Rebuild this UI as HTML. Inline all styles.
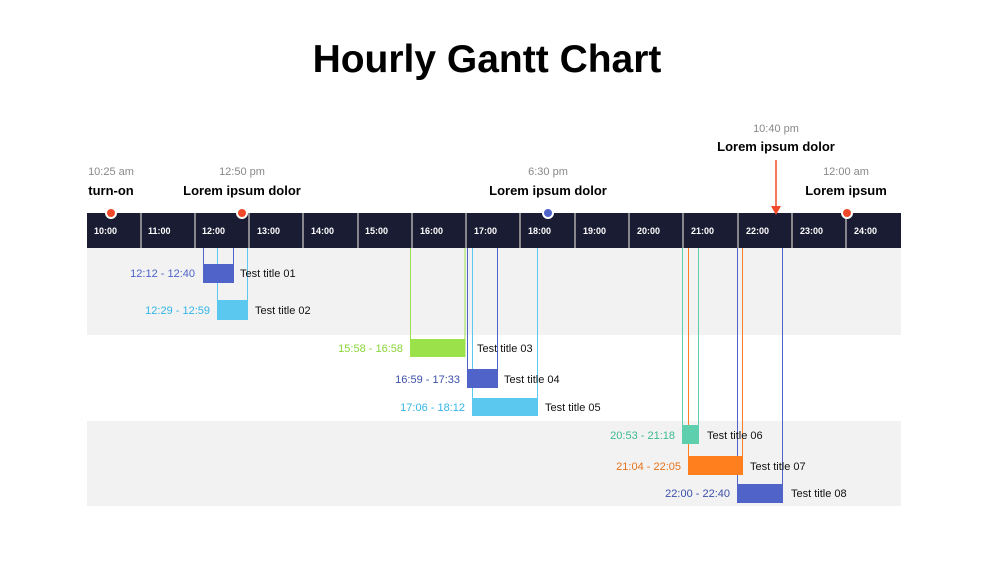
<!DOCTYPE html>
<html><head><meta charset="utf-8"><style>
body{margin:0;background:#fff;width:988px;height:556px;overflow:hidden;font-family:"Liberation Sans",sans-serif}
</style></head><body>
<svg width="988" height="556" xmlns="http://www.w3.org/2000/svg" font-family="Liberation Sans, sans-serif">
<text x="487" y="72" text-anchor="middle" font-size="39" font-weight="bold" fill="#000">Hourly Gantt Chart</text>
<rect x="87" y="248" width="814" height="87" fill="#f2f2f2"/>
<rect x="87" y="421" width="814" height="85" fill="#f2f2f2"/>
<rect x="87" y="213" width="814" height="35" fill="#1a1c33"/>
<g stroke="#aaa" stroke-width="1.5">
<line x1="141" y1="213" x2="141" y2="248"/><line x1="195" y1="213" x2="195" y2="248"/><line x1="249" y1="213" x2="249" y2="248"/><line x1="303" y1="213" x2="303" y2="248"/><line x1="358" y1="213" x2="358" y2="248"/><line x1="412" y1="213" x2="412" y2="248"/><line x1="466" y1="213" x2="466" y2="248"/><line x1="520" y1="213" x2="520" y2="248"/><line x1="575" y1="213" x2="575" y2="248"/><line x1="629" y1="213" x2="629" y2="248"/><line x1="683" y1="213" x2="683" y2="248"/><line x1="738" y1="213" x2="738" y2="248"/><line x1="792" y1="213" x2="792" y2="248"/><line x1="846" y1="213" x2="846" y2="248"/>
</g>
<g fill="#fff" font-size="9" font-weight="bold">
<text x="94" y="234">10:00</text><text x="148" y="234">11:00</text><text x="202" y="234">12:00</text><text x="257" y="234">13:00</text><text x="311" y="234">14:00</text><text x="365" y="234">15:00</text><text x="420" y="234">16:00</text><text x="474" y="234">17:00</text><text x="528" y="234">18:00</text><text x="583" y="234">19:00</text><text x="637" y="234">20:00</text><text x="691" y="234">21:00</text><text x="746" y="234">22:00</text><text x="800" y="234">23:00</text><text x="854" y="234">24:00</text>
</g>
<g stroke-width="1">
<line x1="203.5" y1="248" x2="203.5" y2="283" stroke="#4f63c9"/><line x1="233.5" y1="248" x2="233.5" y2="283" stroke="#4f63c9"/>
<line x1="217.5" y1="248" x2="217.5" y2="320" stroke="#5bc8f0"/><line x1="247.5" y1="248" x2="247.5" y2="320" stroke="#5bc8f0"/>
<line x1="410.5" y1="248" x2="410.5" y2="357" stroke="#9be14a"/><line x1="465" y1="248" x2="465" y2="357" stroke="#9be14a"/>
<line x1="467.5" y1="248" x2="467.5" y2="388" stroke="#4f63c9"/><line x1="497.5" y1="248" x2="497.5" y2="388" stroke="#4f63c9"/>
<line x1="472.5" y1="248" x2="472.5" y2="416" stroke="#5bc8f0"/><line x1="537.5" y1="248" x2="537.5" y2="416" stroke="#5bc8f0"/>
<line x1="682.5" y1="248" x2="682.5" y2="444" stroke="#5dcfad"/><line x1="698.5" y1="248" x2="698.5" y2="444" stroke="#5dcfad"/>
<line x1="688.5" y1="248" x2="688.5" y2="475" stroke="#ff7f1f"/><line x1="742.5" y1="248" x2="742.5" y2="475" stroke="#ff7f1f"/>
<line x1="737.5" y1="248" x2="737.5" y2="503" stroke="#4f63c9"/><line x1="782.5" y1="248" x2="782.5" y2="503" stroke="#4f63c9"/>
</g>
<rect x="203" y="264" width="30" height="19" fill="#4f63c9"/>
<rect x="217" y="300" width="31" height="20" fill="#5bc8f0"/>
<rect x="410" y="339" width="55" height="18" fill="#9be14a"/>
<rect x="467" y="369" width="30" height="19" fill="#4f63c9"/>
<rect x="472" y="398" width="66" height="18" fill="#5bc8f0"/>
<rect x="682" y="425" width="17" height="19" fill="#5dcfad"/>
<rect x="688" y="456" width="55" height="19" fill="#ff7f1f"/>
<rect x="737" y="484" width="46" height="19" fill="#4f63c9"/>
<g font-size="11">
<text x="195" y="277" text-anchor="end" fill="#4f63c9">12:12 - 12:40</text><text x="240" y="277" fill="#111">Test title 01</text>
<text x="210" y="314" text-anchor="end" fill="#33b5e5">12:29 - 12:59</text><text x="255" y="314" fill="#111">Test title 02</text>
<text x="403" y="352" text-anchor="end" fill="#8ad63a">15:58 - 16:58</text><text x="477" y="352" fill="#111">Test title 03</text>
<text x="460" y="383" text-anchor="end" fill="#3b4fa8">16:59 - 17:33</text><text x="504" y="383" fill="#111">Test title 04</text>
<text x="465" y="411" text-anchor="end" fill="#33b5e5">17:06 - 18:12</text><text x="545" y="411" fill="#111">Test title 05</text>
<text x="675" y="439" text-anchor="end" fill="#3dbb8f">20:53 - 21:18</text><text x="707" y="439" fill="#111">Test title 06</text>
<text x="681" y="470" text-anchor="end" fill="#e8731a">21:04 - 22:05</text><text x="750" y="470" fill="#111">Test title 07</text>
<text x="730" y="497" text-anchor="end" fill="#3b4fa8">22:00 - 22:40</text><text x="791" y="497" fill="#111">Test title 08</text>
</g>
<g font-size="11" fill="#888" text-anchor="middle">
<text x="111" y="175">10:25 am</text><text x="242" y="175">12:50 pm</text><text x="548" y="175">6:30 pm</text><text x="776" y="132">10:40 pm</text><text x="846" y="175">12:00 am</text>
</g>
<g font-size="13" font-weight="bold" fill="#000" text-anchor="middle">
<text x="111" y="195">turn-on</text><text x="242" y="195">Lorem ipsum dolor</text><text x="548" y="195">Lorem ipsum dolor</text><text x="776" y="151">Lorem ipsum dolor</text><text x="846" y="195">Lorem ipsum</text>
</g>
<line x1="776" y1="160" x2="776" y2="208" stroke="#f04a2a" stroke-width="1.5"/>
<polygon points="771,206 781,206 776,215" fill="#f04a2a"/>
<g stroke="#fff" stroke-width="2">
<circle cx="111" cy="213" r="5" fill="#f04a2a"/><circle cx="242" cy="213" r="5" fill="#f04a2a"/><circle cx="548" cy="213" r="5" fill="#4f63c9"/><circle cx="847" cy="213" r="5" fill="#f04a2a"/>
</g>
</svg>
</body></html>
